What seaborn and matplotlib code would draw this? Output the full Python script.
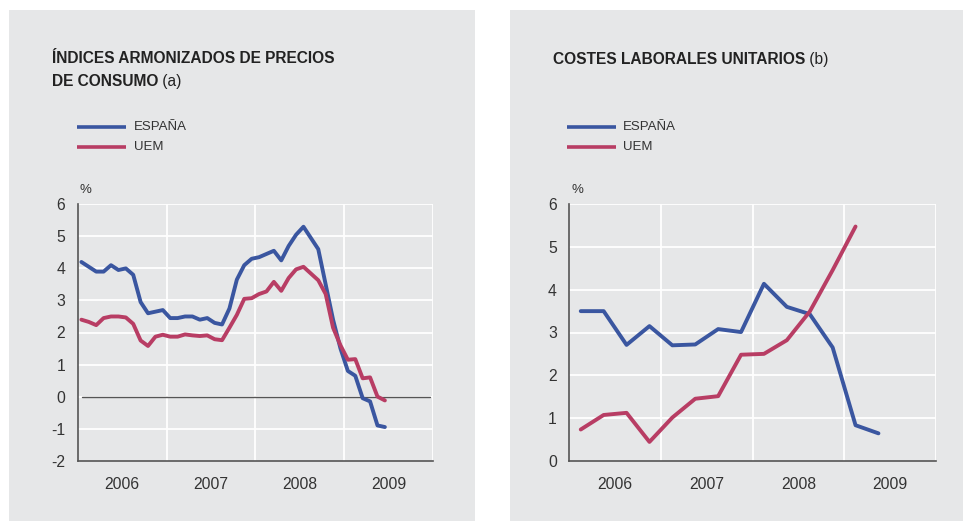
import numpy as np
import pandas as pd
import matplotlib
matplotlib.use('Agg')
from matplotlib import pyplot as plt
from matplotlib.patches import Rectangle
import seaborn as sns

#%% Data
# left panel: HICP, monthly Jan 2006 - Jun 2009 (%)
hicp_espana = [4.2, 4.05, 3.9, 3.9, 4.1, 3.95, 4.0, 3.8, 2.95, 2.6, 2.65, 2.7,
               2.45, 2.45, 2.5, 2.5, 2.4, 2.45, 2.3, 2.25, 2.75, 3.65, 4.1, 4.3,
               4.35, 4.45, 4.55, 4.25, 4.7, 5.05, 5.3, 4.95, 4.6, 3.5, 2.4, 1.5,
               0.8, 0.65, -0.05, -0.15, -0.9, -0.95]
hicp_uem = [2.4, 2.33, 2.23, 2.45, 2.5, 2.5, 2.47, 2.27, 1.75, 1.58, 1.87, 1.93,
            1.87, 1.87, 1.94, 1.91, 1.89, 1.91, 1.79, 1.76, 2.15, 2.55, 3.05, 3.07,
            3.2, 3.28, 3.58, 3.3, 3.7, 3.97, 4.05, 3.84, 3.63, 3.2, 2.15, 1.6,
            1.15, 1.17, 0.57, 0.6, 0.0, -0.12]

# right panel: unit labour costs, quarterly 2006Q1 - 2009Q2 (%)
clu_espana = [3.5, 3.5, 2.71, 3.15, 2.7, 2.72, 3.08, 3.01, 4.14, 3.6, 3.43, 2.65, 0.83, 0.64]
clu_uem = [0.73, 1.07, 1.12, 0.44, 1.01, 1.45, 1.51, 2.48, 2.5, 2.82, 3.49, 4.46, 5.48]

years = [2006, 2007, 2008, 2009]
series_names = ['ESPAÑA', 'UEM']

#%% Style
GRAY = '#e6e7e8'
BLUE = '#3a56a0'
RED = '#b83d64'
TXT = '#333333'

sns.set_style('white', {'axes.facecolor': GRAY})
plt.rcParams['font.family'] = ['Liberation Sans', 'DejaVu Sans']

W, H = 965, 521
fig = plt.figure(figsize=(W / 100, H / 100), dpi=100)
fig.patch.set_facecolor('white')


def fx(px):
    return px / W


def fy(py):
    return 1 - py / H


# gray panels
fig.add_artist(Rectangle((fx(9), 0), fx(466), fy(10), transform=fig.transFigure,
                         facecolor=GRAY, edgecolor='none', zorder=0))
fig.add_artist(Rectangle((fx(510), 0), fx(453), fy(10), transform=fig.transFigure,
                         facecolor=GRAY, edgecolor='none', zorder=0))


def monthly(vals):
    return pd.DataFrame({'x': [2006 + (i + 0.5) / 12 for i in range(len(vals))], 'y': vals})


def quarterly(vals):
    return pd.DataFrame({'x': [2006 + (i + 0.5) / 4 for i in range(len(vals))], 'y': vals})


def style_axes(ax, ymin, ymax):
    ax.set_xlim(2006, 2010)
    ax.set_ylim(ymin, ymax)
    ax.set_xticks([y + 0.5 for y in years])
    ax.set_xticklabels([str(y) for y in years])
    ax.set_yticks(range(ymin, ymax + 1))
    ax.set_yticklabels([str(v) for v in range(ymin, ymax + 1)])
    for y in years:
        ax.axvline(y + 1, color='white', lw=1.3, zorder=1)
    for v in range(ymin + 1, ymax + 1):
        ax.axhline(v, color='white', lw=1.3, zorder=1)
    for s in ['top', 'right']:
        ax.spines[s].set_visible(False)
    for s in ['left', 'bottom']:
        ax.spines[s].set_color('#555555')
        ax.spines[s].set_linewidth(1.2)
    ax.tick_params(axis='y', length=0, pad=9, labelsize=11.3, labelcolor=TXT)
    ax.tick_params(axis='x', length=0, pad=12, labelsize=11.3, labelcolor=TXT)
    ax.set_xlabel('')
    ax.set_ylabel('')


#%% Left panel
ax1 = fig.add_axes([fx(77.7), fy(460.7), fx(433 - 77.7), fy(204.3) - fy(460.7)])
sns.lineplot(data=monthly(hicp_espana), x='x', y='y', ax=ax1, color=BLUE, lw=2.8, zorder=3)
sns.lineplot(data=monthly(hicp_uem), x='x', y='y', ax=ax1, color=RED, lw=2.8, zorder=3)
style_axes(ax1, -2, 6)
ax1.axhline(0, xmin=0.011, xmax=0.991, color='#555555', lw=1.0, zorder=2)

#%% Right panel
ax2 = fig.add_axes([fx(569.3), fy(460.7), fx(935.7 - 569.3), fy(204.3) - fy(460.7)])
sns.lineplot(data=quarterly(clu_espana), x='x', y='y', ax=ax2, color=BLUE, lw=2.8, zorder=3)
sns.lineplot(data=quarterly(clu_uem), x='x', y='y', ax=ax2, color=RED, lw=2.8, zorder=3)
style_axes(ax2, 0, 6)


#%% Titles, legends, units
TS = 11.2


def title(x, y, bold_txt, light_txt):
    t = fig.text(fx(x), fy(y), bold_txt, fontsize=TS, fontweight='bold', color='#222222',
                 va='baseline', ha='left')
    fig.add_artist(plt.Annotation(' ' + light_txt, xy=(1, 0), xycoords=t, fontsize=TS,
                                  color='#222222', va='bottom', ha='left'))


fig.text(fx(51.7), fy(63.3), 'ÍNDICES ARMONIZADOS DE PRECIOS', fontsize=TS,
         fontweight='bold', color='#222222', va='baseline')
title(51.7, 86, 'DE CONSUMO', '(a)')
title(553, 64, 'COSTES LABORALES UNITARIOS', '(b)')


def legend(x0, x1, xt):
    for name, col, py in zip(series_names, [BLUE, RED], [126.5, 146.7]):
        fig.add_artist(plt.Line2D([fx(x0), fx(x1)], [fy(py), fy(py)], transform=fig.transFigure,
                                  color=col, lw=2.6, solid_capstyle='butt'))
        fig.text(fx(xt), fy(py), name, fontsize=9.5, color=TXT, va='center', ha='left')


legend(77, 126, 134)
legend(567, 616, 623)

fig.text(fx(79), fy(193), '%', fontsize=9.5, color=TXT, va='baseline')
fig.text(fx(572), fy(193), '%', fontsize=9.5, color=TXT, va='baseline')

fig.savefig('out.png', dpi=100)
